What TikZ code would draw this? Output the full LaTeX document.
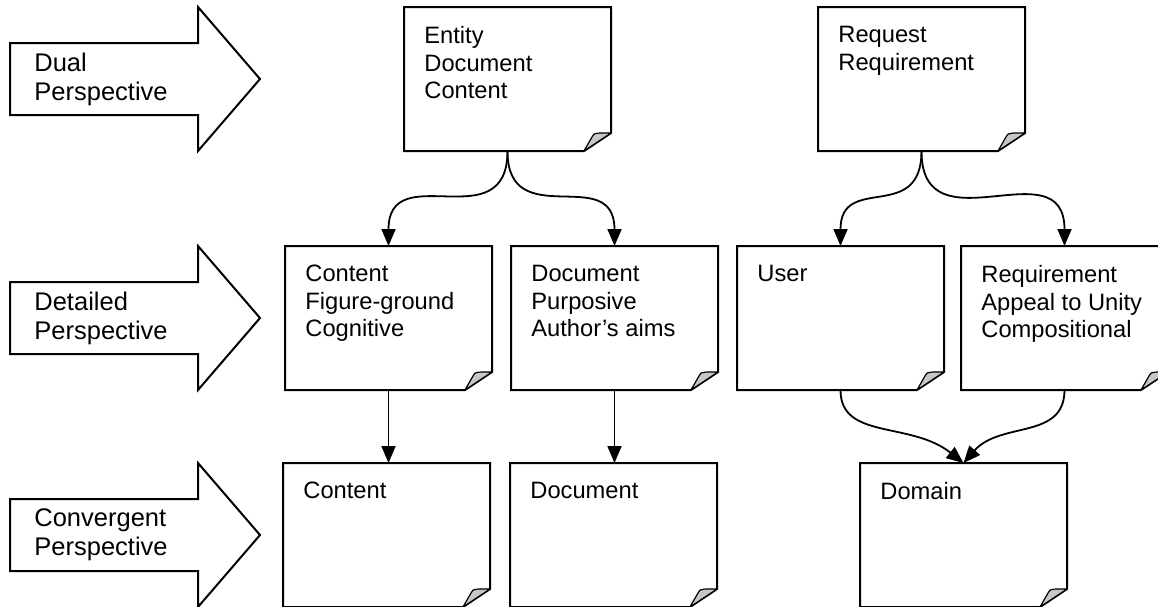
\documentclass[tikz,border=0pt]{standalone}
\usepackage{fontspec}
\setmainfont{Liberation Sans}
\usetikzlibrary{arrows.meta}
\tikzset{
  pagebase/.style={minimum width=103.5pt, minimum height=72pt, inner sep=0pt, outer sep=0pt},
  pageline/.style={line width=1pt, line join=miter, fill=white},
  foldfill/.style={fill=black!22, line width=0.6pt, line join=round},
  pagetext/.style={anchor=north west, inner sep=0pt, align=left, font=\fontsize{11.85pt}{13.75pt}\selectfont},
  conn/.style={line width=0.9pt, -{Triangle[width=7pt,length=8.5pt]}},
  bigarrow/.style={line width=1pt, line join=miter, fill=white},
  arrowtext/.style={anchor=west, inner sep=0pt, align=left, font=\fontsize{12.75pt}{14.5pt}\selectfont}
}
\newcommand\paperpage[4]{%
  \node[pagebase] (#1) at (#2+103.5,#3+72) {};
  \draw[pageline] (#1.north west) -- (#1.north east) -- ([yshift=9pt]#1.south east)
     -- ([xshift=-13.5pt]#1.south east) -- (#1.south west) -- cycle;
  \filldraw[foldfill] ([xshift=-13.5pt]#1.south east) -- ([yshift=9pt]#1.south east)
     .. controls ([xshift=-4pt,yshift=9pt]#1.south east) and ([xshift=-9.5pt,yshift=9.5pt]#1.south east)
     .. ([xshift=-9.5pt,yshift=7pt]#1.south east) -- cycle;
  \node[pagetext] (#1-t) at ([xshift=10pt,yshift=-9.5pt]#1.north west) {#4};
}
\newcommand\perspectivearrow[3]{%
  \draw[bigarrow] (10,#2-36) -- (198,#2-36) -- (198,#2-72) -- (260,#2) -- (198,#2+72)
     -- (198,#2+36) -- (10,#2+36) -- cycle;
  \node[arrowtext] (#1) at (34,#2) {#3};
}
\begin{document}
\begin{tikzpicture}[x=0.5pt,y=-0.5pt]
\clip (0,0) rectangle (1158,606);
\fill[white] (0,0) rectangle (1158,606);

\perspectivearrow{dual}{79}{Dual\\Perspective}
\perspectivearrow{detailed}{318}{Detailed\\Perspective}
\perspectivearrow{convergent}{535}{Convergent\\Perspective}

\paperpage{ent}{404}{7}{Entity\\Document\\Content}
\paperpage{req}{818}{7}{Request\\Requirement}

\paperpage{con}{285}{246}{Content\\Figure-ground\\Cognitive}
\paperpage{doc}{511}{246}{Document\\Purposive\\Author’s aims}
\paperpage{user}{737}{246}{User}
\paperpage{reqm}{961}{246}{Requirement\\Appeal to Unity\\Compositional}

\paperpage{conb}{283}{463}{Content}
\paperpage{docb}{510}{463}{Document}
\paperpage{dom}{860}{463}{Domain}

\draw[conn] (ent.south) to[out=-90,in=90,looseness=1.5] (con.north);
\draw[conn] (ent.south) to[out=-90,in=90,looseness=1.5] (doc.north);
\draw[conn] (req.south) to[out=-90,in=90,looseness=1.5] (user.north);
\draw[conn] (req.south) to[out=-90,in=90,looseness=1.5] (reqm.north);

\draw[conn] (con.south) -- (con.south |- conb.north);
\draw[conn] (doc.south) -- (doc.south |- docb.north);

\draw[conn] (user.south) .. controls ([yshift=-25pt]user.south)
   and ([xshift=-26.5pt,yshift=21pt]dom.north) .. (dom.north);
\draw[conn] (reqm.south) .. controls ([yshift=-25pt]reqm.south)
   and ([xshift=18.5pt,yshift=21pt]dom.north) .. (dom.north);
\end{tikzpicture}
\end{document}
